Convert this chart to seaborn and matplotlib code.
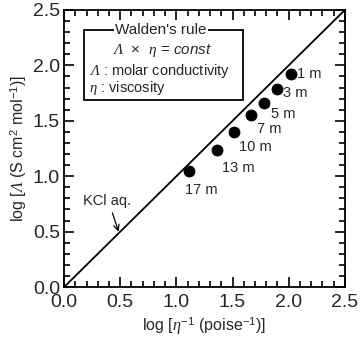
import matplotlib
matplotlib.use("Agg")
import matplotlib.pyplot as plt
import seaborn as sns
import numpy as np
import pandas as pd
from matplotlib.patches import Rectangle
from matplotlib.ticker import MultipleLocator, FormatStrFormatter

# data
labels = ["1 m", "3 m", "5 m", "7 m", "10 m", "13 m", "17 m"]
log_inv_visc = [2.02, 1.90, 1.78, 1.66, 1.51, 1.36, 1.11]
log_cond = [1.92, 1.79, 1.66, 1.55, 1.40, 1.24, 1.05]
kcl_line = [0.0, 2.5]

# label offsets in points (dx, dy)
offsets = [(4, 0), (4, -3), (5, -8), (5, -10), (4, -11), (4, -13), (-3, -14)]

sns.set_style("ticks")
plt.rcParams["font.family"] = ["Liberation Sans", "DejaVu Sans"]
plt.rcParams["mathtext.fontset"] = "custom"
plt.rcParams["mathtext.rm"] = "Liberation Sans"
plt.rcParams["mathtext.it"] = "Liberation Serif:italic"
# 'it' forces Greek capitals upright, so borrow the bf slot for italic serif
plt.rcParams["mathtext.bf"] = "Liberation Serif:italic"
plt.rcParams["mathtext.sf"] = "Liberation Sans:italic"

fig = plt.figure(figsize=(3.6, 3.43), dpi=100)
ax = fig.add_axes([0.178, 0.163, 0.78, 0.808])

sns.lineplot(x=kcl_line, y=kcl_line, color="black", lw=1.3, ax=ax)
df = pd.DataFrame({"x": log_inv_visc, "y": log_cond, "lab": labels})
sns.scatterplot(data=df, x="x", y="y", color="black", s=62, edgecolor="black",
                ax=ax, zorder=3)

for (x, y, lab), (dx, dy) in zip(df[["x", "y", "lab"]].values, offsets):
    ax.annotate(lab, (x, y), xytext=(dx, dy), textcoords="offset points",
                ha="left", va="center", fontsize=10.5)

# KCl aq. label and arrow
ax.text(0.38, 0.78, "KCl aq.", ha="center", va="center", fontsize=10.5)
ax.annotate("", xy=(0.485, 0.50), xytext=(0.43, 0.67),
            arrowprops=dict(arrowstyle="->", color="black", lw=0.9,
                            shrinkA=0, shrinkB=0))

# Walden's rule box
ax.add_patch(Rectangle((0.18, 1.69), 1.41, 0.63, fill=False, lw=1.3,
                       edgecolor="black", zorder=4))
ax.text(0.86, 2.32, "Walden's rule", ha="center", va="center", fontsize=11,
        bbox=dict(facecolor="white", edgecolor="none", pad=1), zorder=5)
ax.text(0.87, 2.13, r"$\mathbf{Λ}$  ×  $\mathit{η}$ = $\mathsf{const}$",
        ha="center", va="center", fontsize=11)
ax.text(0.22, 1.95, r"$\mathbf{Λ}$ : molar conductivity",
        ha="left", va="center", fontsize=10.5)
ax.text(0.22, 1.80, r"$\mathit{η}$ : viscosity",
        ha="left", va="center", fontsize=10.5)

ax.set_xlim(0, 2.5)
ax.set_ylim(0, 2.5)
ax.xaxis.set_major_locator(MultipleLocator(0.5))
ax.yaxis.set_major_locator(MultipleLocator(0.5))
ax.xaxis.set_minor_locator(MultipleLocator(0.1))
ax.yaxis.set_minor_locator(MultipleLocator(0.1))
ax.xaxis.set_major_formatter(FormatStrFormatter("%.1f"))
ax.yaxis.set_major_formatter(FormatStrFormatter("%.1f"))
ax.tick_params(which="both", direction="in", top=True, right=True,
               labelsize=14, width=1.2, color="black")
ax.tick_params(which="major", length=7)
ax.tick_params(which="minor", length=4)
ax.tick_params(axis="x", which="major", pad=5)
ax.tick_params(axis="y", which="major", pad=3)
for s in ax.spines.values():
    s.set_linewidth(1.3)
    s.set_color("black")

ax.set_xlabel(r"log [$\mathit{η}^{-1}$ (poise$^{-1}$)]", fontsize=11.5, labelpad=3)
ax.set_ylabel(r"log [$\mathbf{Λ}$ (S cm$^{2}$ mol$^{-1}$)]", fontsize=11.5, labelpad=3)

fig.savefig("out.png", dpi=100)
